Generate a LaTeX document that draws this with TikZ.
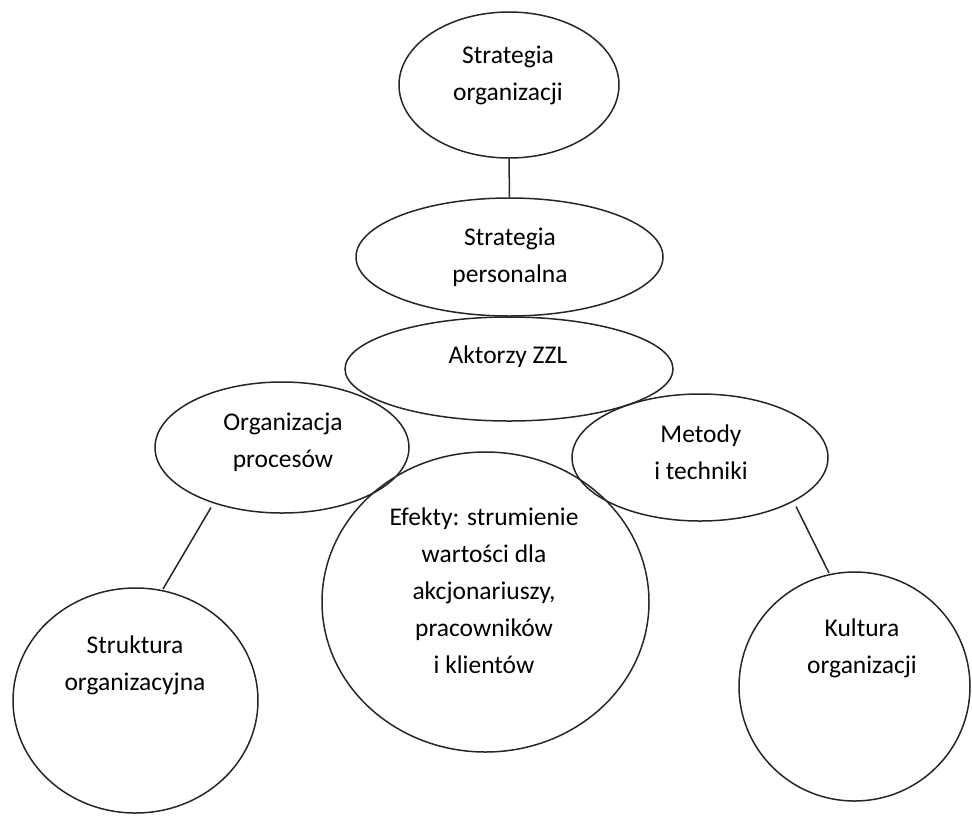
\documentclass[tikz,border=0pt]{standalone}
\usepackage{fontspec}
\setmainfont{Carlito}
\usetikzlibrary{shapes.geometric}
\begin{document}
\begin{tikzpicture}[x=1pt,y=-1pt,
  bub/.style={ellipse, draw=black!85, line width=1.5pt, inner sep=0pt},
  lbl/.style={align=center, font=\fontsize{25.5}{37}\selectfont, inner sep=0pt, anchor=base},
  link/.style={draw=black!85, line width=1.5pt}]
\useasboundingbox (0,0) rectangle (972,815);
% shapes
\node[bub, minimum width=220pt, minimum height=146pt] (so) at (509,85) {};
\node[bub, minimum width=307pt, minimum height=118pt] (sp) at (509.5,257) {};
\node[bub, minimum width=328pt, minimum height=104pt] (ak) at (509,369) {};
\node[bub, minimum width=254pt, minimum height=131pt] (op) at (282,447.5) {};
\node[bub, minimum width=256pt, minimum height=127pt] (mt) at (700,457.5) {};
\node[bub, minimum width=327pt, minimum height=300pt] (ef) at (485.5,602) {};
\node[bub, minimum width=245pt, minimum height=225pt] (st) at (135.5,700.5) {};
\node[bub, minimum width=231pt, minimum height=229pt] (ku) at (854.5,686.5) {};
% texts (anchor = baseline of the last line)
\node[lbl] (sot) at (508,100) {Strategia\\organizacji};
\node[lbl] (spt) at (510,282) {Strategia\\personalna};
\node[lbl] (akt) at (508,363) {Aktorzy ZZL};
\node[lbl] (opt) at (283,467) {Organizacja\\procesów};
\node[lbl] (mtt) at (701,479) {Metody\\i techniki};
\node[lbl] (eft) at (484,673) {Efekty: strumienie\\wartości dla\\akcjonariuszy,\\pracowników\\i klientów};
\node[lbl] (stt) at (135,690) {Struktura\\organizacyjna};
\node[lbl] (kut) at (862,673) {Kultura\\organizacji};
% connectors
\draw[link] (so.south) -- (sp.north);
\draw[link] ([shift={(-71,60)}]op.center) -- ([shift={(27.5,-111.5)}]st.center);
\draw[link] ([shift={(96,49)}]mt.center) -- ([shift={(-25.5,-113.5)}]ku.center);
\end{tikzpicture}
\end{document}
